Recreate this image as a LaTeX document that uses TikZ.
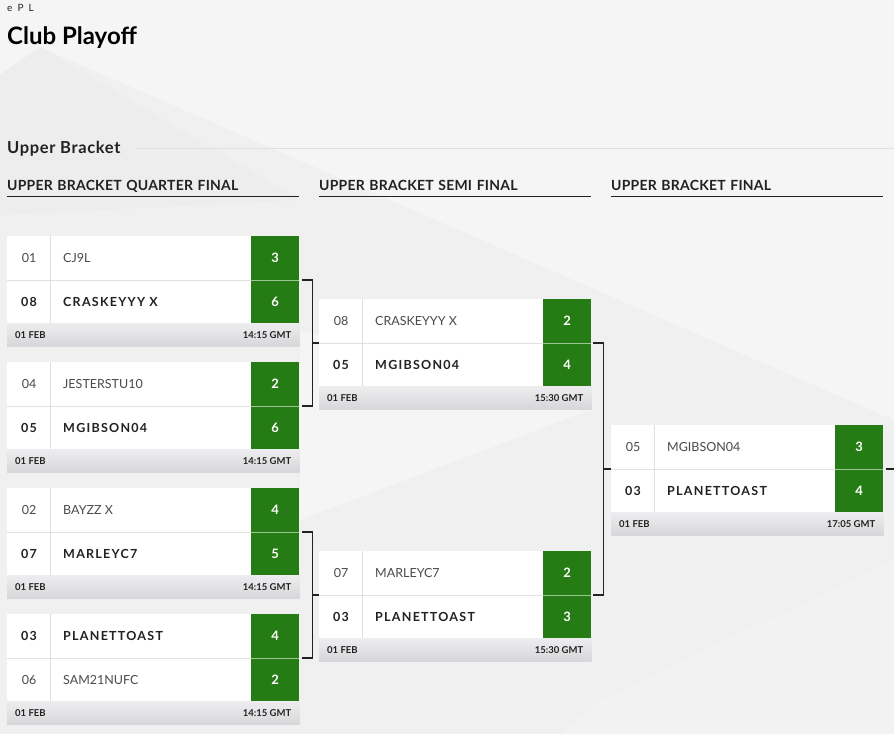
\documentclass[tikz,border=0pt]{standalone}
\usepackage{fontspec}
\setmainfont{Lato}
\usepackage{tikz}
\usetikzlibrary{positioning}
\usetikzlibrary{calc}
\definecolor{scoregreen}{HTML}{267C14}
\definecolor{pagegrey}{HTML}{F0F0F0}
\definecolor{footgrey}{HTML}{D6D6DA}
\definecolor{inkdark}{HTML}{222222}
\definecolor{inkmid}{HTML}{4A4A4A}
\tikzset{row box/.style={anchor=north west,fill=white,minimum height=43.5pt,inner sep=0pt},
	score box/.style={anchor=north east,fill=scoregreen,minimum width=48pt,minimum height=43.5pt,inner sep=0pt,text=white,font=\fontsize{13}{13}\selectfont\bfseries},
	seed text/.style={font=\fontsize{12.5}{12.5}\selectfont,text=inkmid},
	name text/.style={anchor=west,inner xsep=0pt,font=\fontsize{12.5}{12.5}\selectfont,text=inkmid},
	win/.style={font=\fontsize{12.5}{12.5}\selectfont\bfseries\addfontfeatures{LetterSpace=10},text=inkdark},
	foot text/.style={font=\fontsize{9.5}{9.5}\selectfont\bfseries,text=inkdark,inner xsep=0pt},
	round title/.style={anchor=south west,inner xsep=0pt,inner ysep=5pt,text height=10pt,text depth=0pt,font=\fontsize{14}{14}\selectfont\bfseries\addfontfeatures{LetterSpace=1.5},text=inkdark},
	bracket line/.style={draw=inkdark,line width=1.3pt},}
% one row of a match: id, x, y, width, style, seed, name, score
\newcommand{\playrow}[8]{%
	\node[row box,minimum width=#4pt] (#1) at (#2,#3) {};
	\node[score box] (#1s) at (#1.north east) {#8};
	\draw[black!12] ($(#1.north west)+(43,0)$) -- ($(#1.south west)+(43,0)$);
	\node[seed text,#5] (#1n) at ($(#1.west)+(22,0)$) {#6};
	\node[name text,#5] (#1p) at ($(#1.west)+(56,0)$) {#7};}
% separator and date bar of a match: id, date, time
\newcommand{\playfoot}[3]{%
	\draw[black!12] (#1a.south west) -- (#1as.south west);
	\draw[white!55!scoregreen] (#1as.south west) -- (#1as.south east);
	\path[top color=footgrey!45,bottom color=footgrey] (#1b.south west) rectangle ($(#1b.south east)+(0,23)$);
	\node[foot text,anchor=west] (#1d) at ($(#1b.south west)+(8,11.5)$) {#2};
	\node[foot text,anchor=east] (#1t) at ($(#1b.south east)+(-8,11.5)$) {#3};}

\begin{document}
\begin{tikzpicture}[x=1pt, y=-1pt]
	\useasboundingbox (0,0) rectangle (894,734);
	% background
	\fill[pagegrey] (0,0) rectangle (894,734);
	\fill[white!96!black] (0,0) -- (894,0) -- (894,420) -- (40,47) -- (0,75) -- cycle;
	\fill[white!93!black] (0,75) -- (40,47) -- (300,200) -- (0,215) -- cycle;
	\fill[white!96!black] (300,330) -- (590,410) -- (300,520) -- cycle;
	\fill[white!95!black] (600,700) -- (894,560) -- (894,734) -- (560,734) -- cycle;

	% titles
	\node[anchor=base west,inner sep=0pt,font=\fontsize{10}{10}\selectfont\addfontfeatures{LetterSpace=25},text=inkdark] (brand) at (7,11) {e P L};
	\node[anchor=base west,inner sep=0pt,font=\fontsize{24}{24}\selectfont\bfseries,text=black] (page) at (7,44) {Club Playoff};
	\node[anchor=base west,inner sep=0pt,font=\fontsize{16.5}{16.5}\selectfont\bfseries\addfontfeatures{LetterSpace=4},text=inkdark] (upper) at (7,153) {Upper Bracket};
	\coordinate (rule end) at (894,148);
	\draw[white!88!black] ([xshift=15pt]upper.east |- rule end) -- (rule end);

	\node[round title,text width=292pt] (qft) at (7,196) {UPPER BRACKET QUARTER FINAL};
	\node[round title,text width=272pt] (sft) at (319,196) {UPPER BRACKET SEMI FINAL};
	\node[round title,text width=272pt] (fint) at (611,196) {UPPER BRACKET FINAL};
	\foreach \t in {qft,sft,fint}
		\draw[inkdark] (\t.south west) -- (\t.south east);

	% quarter finals
	\playrow{qf1a}{7}{236}{292}{}{01}{CJ9L}{3}
	\playrow{qf1b}{7}{280}{292}{win}{08}{CRASKEYYY X}{6}
	\playfoot{qf1}{01 FEB}{14:15 GMT}
	\playrow{qf2a}{7}{362}{292}{}{04}{JESTERSTU10}{2}
	\playrow{qf2b}{7}{406}{292}{win}{05}{MGIBSON04}{6}
	\playfoot{qf2}{01 FEB}{14:15 GMT}
	\playrow{qf3a}{7}{488}{292}{}{02}{BAYZZ X}{4}
	\playrow{qf3b}{7}{532}{292}{win}{07}{MARLEYC7}{5}
	\playfoot{qf3}{01 FEB}{14:15 GMT}
	\playrow{qf4a}{7}{614}{292}{win}{03}{PLANETTOAST}{4}
	\playrow{qf4b}{7}{658}{292}{}{06}{SAM21NUFC}{2}
	\playfoot{qf4}{01 FEB}{14:15 GMT}

	% semi finals
	\playrow{sf1a}{319}{299}{272}{}{08}{CRASKEYYY X}{2}
	\playrow{sf1b}{319}{343}{272}{win}{05}{MGIBSON04}{4}
	\playfoot{sf1}{01 FEB}{15:30 GMT}
	\playrow{sf2a}{319}{551}{272}{}{07}{MARLEYC7}{2}
	\playrow{sf2b}{319}{595}{272}{win}{03}{PLANETTOAST}{3}
	\playfoot{sf2}{01 FEB}{15:30 GMT}

	% final
	\playrow{fina}{611}{425}{272}{}{05}{MGIBSON04}{3}
	\playrow{finb}{611}{469}{272}{win}{03}{PLANETTOAST}{4}
	\playfoot{fin}{01 FEB}{17:05 GMT}

	% brackets
	\coordinate (j1) at ($(qf1a.south east)!.5!(qf2a.south east)+(13,0)$);
	\coordinate (j2) at ($(qf3a.south east)!.5!(qf4a.south east)+(13,0)$);
	\coordinate (j3) at ($(sf1a.south east)!.5!(sf2a.south east)+(12,0)$);
	\coordinate (out) at (894,0 |- fina.south east);
	\draw[bracket line] ([xshift=3pt]qf1a.south east) -| ([xshift=13pt]qf2a.south east) -- ([xshift=3pt]qf2a.south east);
	\draw[bracket line] (j1) -- (sf1a.south west);
	\draw[bracket line] ([xshift=3pt]qf3a.south east) -| ([xshift=13pt]qf4a.south east) -- ([xshift=3pt]qf4a.south east);
	\draw[bracket line] (j2) -- (sf2a.south west);
	\draw[bracket line] ([xshift=2pt]sf1a.south east) -| ([xshift=12pt]sf2a.south east) -- ([xshift=2pt]sf2a.south east);
	\draw[bracket line] (j3) -- (fina.south west);
	\draw[bracket line] ([xshift=3pt]fina.south east) -- (out);
\end{tikzpicture}
\end{document}
